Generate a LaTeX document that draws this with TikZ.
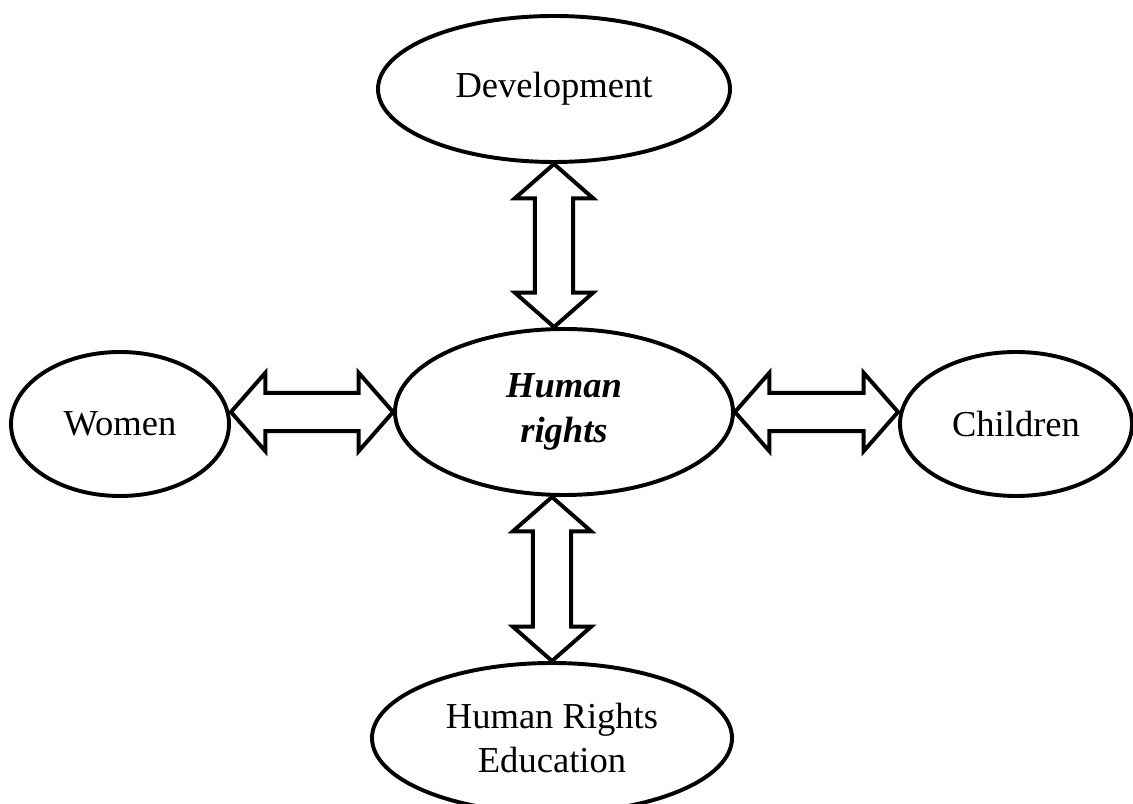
\documentclass[tikz,border=0pt]{standalone}
\usepackage{fontspec}
\setmainfont{Liberation Serif}
\usetikzlibrary{shapes,calc}

% hollow double-headed arrow between two named points
\newcommand{\bigarrow}[2]{%
  \draw[link] (#1)
    -- ($(#1)!0.86cm!(#2)!0.98cm!90:(#2)$)
    -- ($(#1)!0.86cm!(#2)!0.48cm!90:(#2)$)
    -- ($(#2)!0.86cm!(#1)!0.48cm!-90:(#1)$)
    -- ($(#2)!0.86cm!(#1)!0.98cm!-90:(#1)$)
    -- (#2)
    -- ($(#2)!0.86cm!(#1)!0.98cm!90:(#1)$)
    -- ($(#2)!0.86cm!(#1)!0.48cm!90:(#1)$)
    -- ($(#1)!0.86cm!(#2)!0.48cm!-90:(#2)$)
    -- ($(#1)!0.86cm!(#2)!0.98cm!-90:(#2)$)
    -- cycle;}

\begin{document}
\begin{tikzpicture}[
    bubble/.style={ellipse, draw=black, line width=2.8pt, inner sep=0pt, align=center, font=\fontsize{26}{32}\selectfont},
    link/.style={draw=black, line width=2.8pt, fill=white}
]

% Frame
\useasboundingbox (0, 0) rectangle (28.325, 20.1);

% Topics
\node[bubble, minimum width=8.8cm, minimum height=3.65cm] (dev) at (13.85, 17.875) {Development};
\node[bubble, minimum width=8.45cm, minimum height=4.15cm, font=\fontsize{26}{32}\selectfont\bfseries\itshape] (hr) at (14.1, 9.8) {Human\\rights};
\node[bubble, minimum width=5.45cm, minimum height=3.6cm] (wom) at (3.0, 9.5) {Women};
\node[bubble, minimum width=5.8cm, minimum height=3.6cm] (chi) at (25.4, 9.5) {Children};
\node[bubble, minimum width=9.0cm, minimum height=3.75cm] (edu) at (13.8, 1.65) {Human Rights\\Education};

% Arrow ends
\coordinate (devS) at (dev.south);
\coordinate (hrN) at (devS |- hr.north);
\coordinate (eduN) at (edu.north);
\coordinate (hrS) at (eduN |- hr.south);
\coordinate (hrW) at (hr.west);
\coordinate (womE) at (wom.east |- hrW);
\coordinate (hrE) at (hr.east);
\coordinate (chiW) at (chi.west |- hrE);

% Arrows
\bigarrow{devS}{hrN}
\bigarrow{hrS}{eduN}
\bigarrow{womE}{hrW}
\bigarrow{hrE}{chiW}

\end{tikzpicture}
\end{document}
